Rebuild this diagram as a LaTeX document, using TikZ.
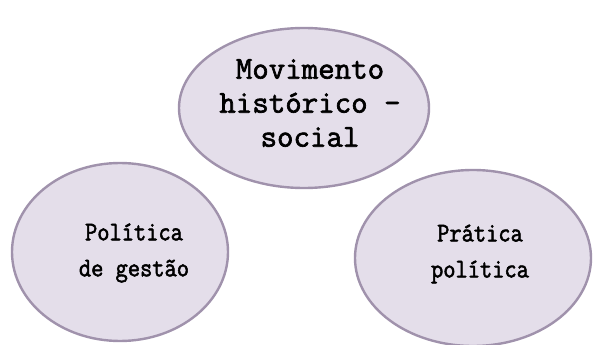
\documentclass[tikz,border=0pt]{standalone}
\usepackage{fontspec}
\newfontfamily\lblfont{Latin Modern Mono}[FakeBold=2]
\newfontfamily\lblfontn{Latin Modern Mono}[FakeBold=2,FakeStretch=0.88]
\usetikzlibrary{shapes.geometric}
\definecolor{ellfill}{HTML}{E4DEEA}
\definecolor{elldraw}{HTML}{A092AC}
\begin{document}
\begin{tikzpicture}[x=1pt,y=-1pt,
  bubble/.style={draw=elldraw, fill=ellfill, line width=2.4pt},
  lbl/.style={align=center, text=black}]
\useasboundingbox (0,0) rectangle (595,345);
\draw[bubble] (304,108) ellipse [x radius=125, y radius=80];
\draw[bubble] (120,252) ellipse [x radius=108, y radius=89];
\draw[bubble] (473,258) ellipse [x radius=118, y radius=88];
\node[lbl, font=\lblfont\fontsize{32}{34}\selectfont] (top) at (310,103) {Movimento\\histórico -\\social};
\node[lbl, font=\lblfontn\fontsize{27}{36}\selectfont] (left) at (134,253) {Política\\de gestão};
\node[lbl, font=\lblfontn\fontsize{27}{36}\selectfont] (right) at (480,254) {Prática\\política};
\end{tikzpicture}
\end{document}
